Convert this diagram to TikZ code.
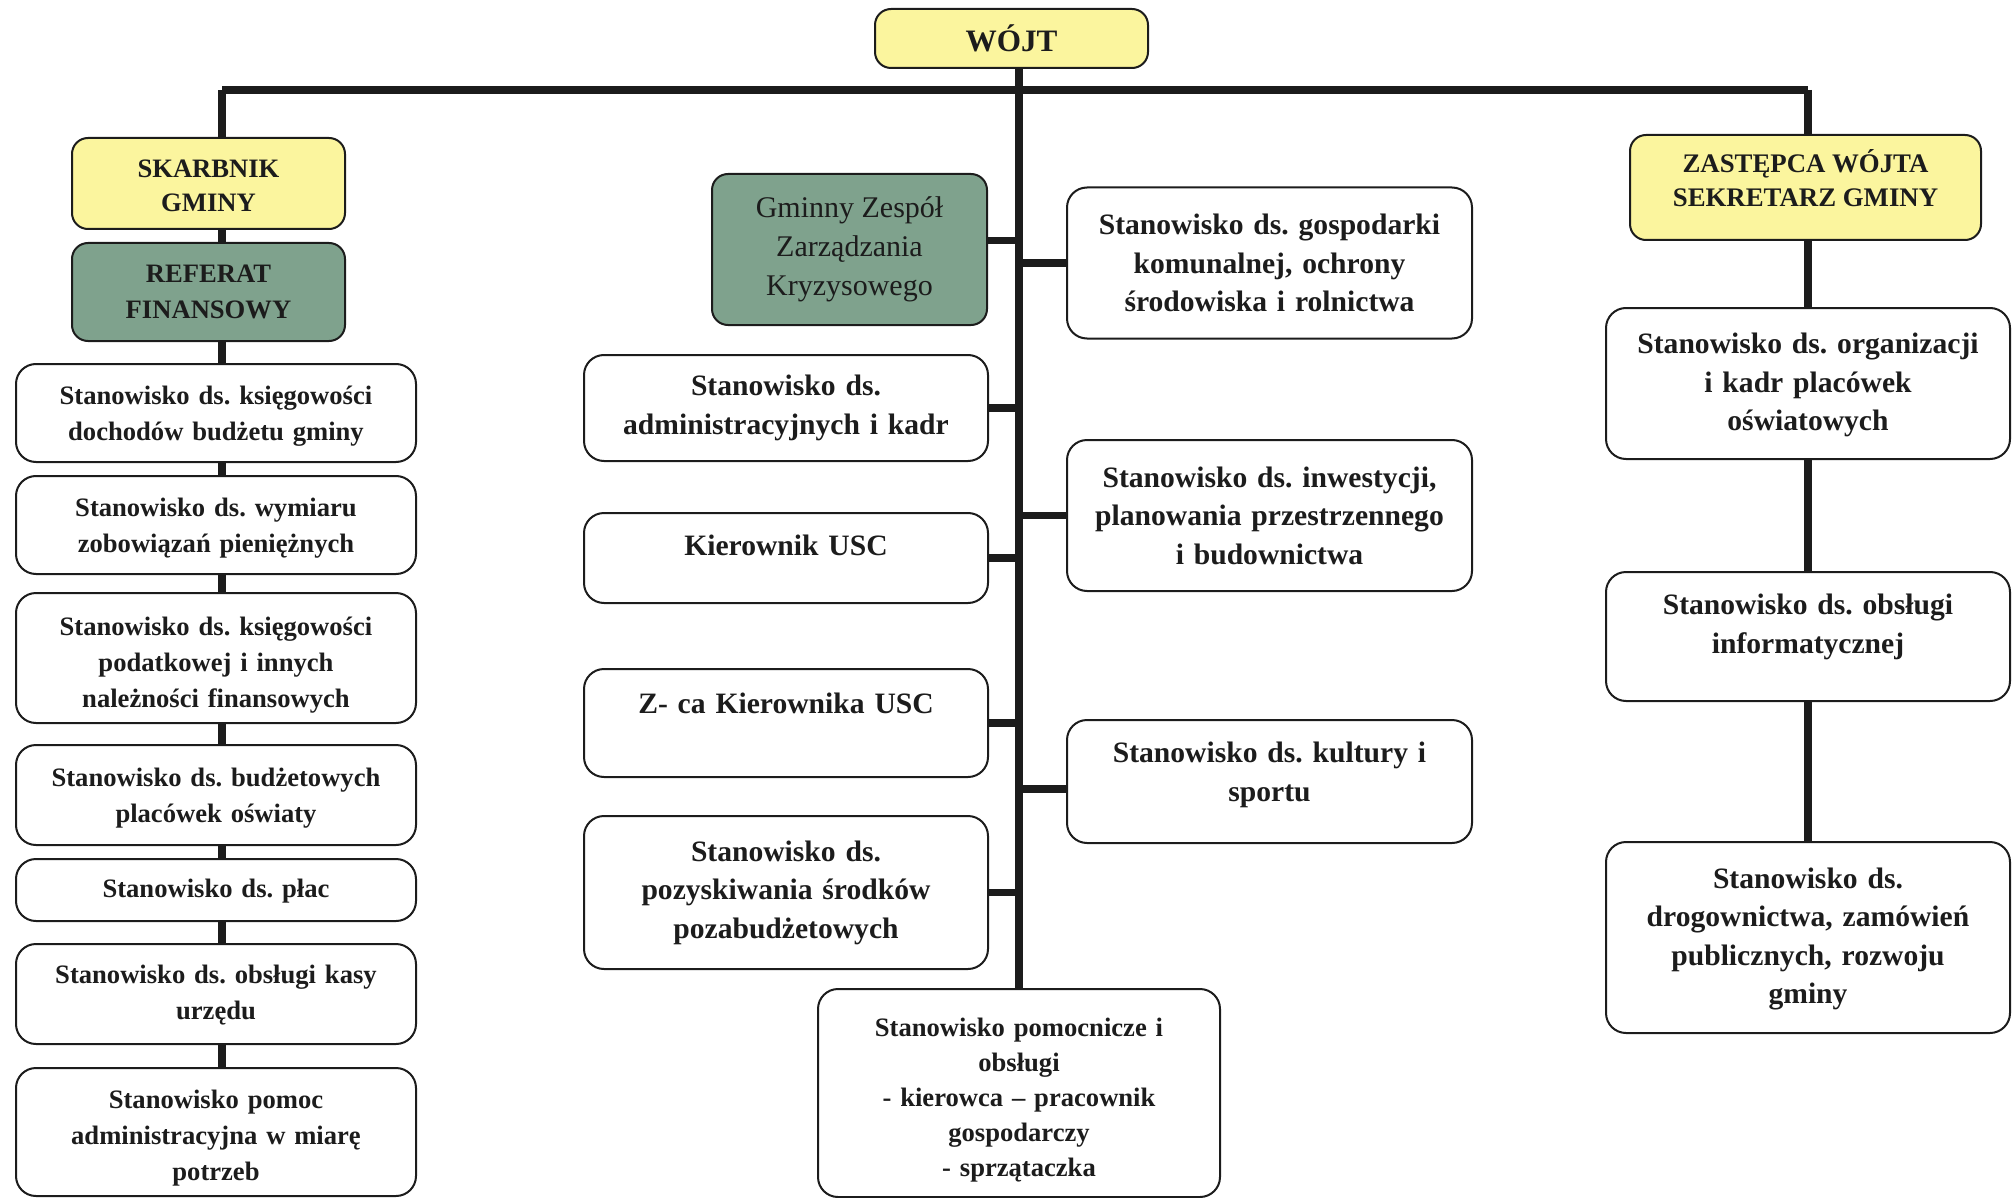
\documentclass[tikz,border=0pt]{standalone}
\usepackage{fontspec}
\setmainfont{Liberation Serif}
\frenchspacing
\usetikzlibrary{positioning}

\definecolor{bossyellow}{HTML}{FBF59E}
\definecolor{unitgreen}{HTML}{7FA28D}
\definecolor{inkline}{HTML}{1C1C1C}

\tikzset{
  box/.style={draw=inkline, line width=1pt, rounded corners=10pt, fill=white,
    align=center, inner sep=2pt, text=inkline},
  leftbox/.style={box, minimum width=200pt, text width=192pt, text height=12pt,
    font=\bfseries\fontsize{13.3pt}{18pt}\selectfont},
  midbox/.style={box, minimum width=202pt, text width=194pt,
    font=\bfseries\fontsize{14.8pt}{19.25pt}\selectfont},
  yellowbox/.style={box, fill=bossyellow, rounded corners=8pt},
  greenbox/.style={box, fill=unitgreen, rounded corners=8pt},
  link/.style={draw=inkline, line width=3.6pt},
}

\begin{document}
\begin{tikzpicture}[x=0.5pt,y=-0.5pt]
\useasboundingbox (0,0) rectangle (2012,1198);

% kierownictwo
\node[yellowbox, minimum width=136.5pt, minimum height=29.5pt,
  font=\bfseries\fontsize{15.6pt}{19pt}\selectfont] (wojt) at (1011.5,38.5) {WÓJT};
\node[yellowbox, minimum width=136.5pt, minimum height=45.5pt, text height=28.5pt,
  font=\bfseries\fontsize{13.3pt}{17.3pt}\selectfont] (skarbnik) at (208.5,183.5) {SKARBNIK\\GMINY};
\node[greenbox, minimum width=136.5pt, minimum height=49pt,
  font=\bfseries\fontsize{13.3pt}{18pt}\selectfont] (referat) at (208.5,292) {REFERAT\\FINANSOWY};
\node[yellowbox, minimum width=175.5pt, minimum height=52.5pt, text depth=9.5pt,
  font=\bfseries\fontsize{13.4pt}{17.3pt}\selectfont] (zastepca) at (1805.5,187.5) {ZASTĘPCA WÓJTA\\SEKRETARZ GMINY};
\node[greenbox, minimum width=137.5pt, minimum height=75.5pt,
  font=\fontsize{15pt}{19.5pt}\selectfont] (zespol) at (849.5,249.5) {Gminny Zespół\\Zarządzania\\Kryzysowego};

% referat finansowy
\node[leftbox, minimum height=49pt] (ksieg) at (216,413) {Stanowisko ds. księgowości\\dochodów budżetu gminy};
\node[leftbox, minimum height=49pt] (wymiar) at (216,525) {Stanowisko ds. wymiaru\\zobowiązań pieniężnych};
\node[leftbox, minimum height=65pt, text height=16pt] (podatki) at (216,658) {Stanowisko ds. księgowości\\podatkowej i innych\\należności finansowych};
\node[leftbox, minimum height=50pt] (budzet) at (216,795) {Stanowisko ds. budżetowych\\placówek oświaty};
\node[leftbox, minimum height=31pt, text height=10pt] (place) at (216,890) {Stanowisko ds. płac};
\node[leftbox, minimum height=50pt, text height=10pt] (kasa) at (216,994) {Stanowisko ds. obsługi kasy\\urzędu};
\node[leftbox, minimum height=64pt, text height=15pt] (pomoc) at (216,1132) {Stanowisko pomoc\\administracyjna w miarę\\potrzeb};

% stanowiska przy wojcie
\node[midbox, minimum height=53pt] (admin) at (786,408) {Stanowisko ds.\\administracyjnych i kadr};
\node[midbox, minimum height=45pt, text depth=13pt] (usc) at (786,558) {Kierownik USC};
\node[midbox, minimum height=54pt, text depth=20pt] (zcausc) at (786,723) {Z- ca Kierownika USC};
\node[midbox, minimum height=76.5pt] (srodki) at (786,892.5) {Stanowisko ds.\\pozyskiwania środków\\pozabudżetowych};
\node[midbox, minimum width=202.5pt, minimum height=75.5pt] (gospodarka) at (1269.5,263) {Stanowisko ds. gospodarki\\komunalnej, ochrony\\środowiska i rolnictwa};
\node[midbox, minimum width=202.5pt, minimum height=75.5pt] (inwestycje) at (1269.5,515.5) {Stanowisko ds. inwestycji,\\planowania przestrzennego\\i budownictwa};
\node[midbox, minimum width=202.5pt, minimum height=61.5pt, text depth=29pt] (kultura) at (1269.5,781.5) {Stanowisko ds. kultury i\\sportu};
\node[leftbox, minimum width=201pt, minimum height=104pt, text height=16pt,
  font=\bfseries\fontsize{13.3pt}{17.5pt}\selectfont] (obsluga) at (1019,1093) {Stanowisko pomocnicze i\\obsługi\\- kierowca – pracownik\\gospodarczy\\- sprzątaczka};

% sekretarz
\node[midbox, minimum height=75.5pt, text height=12pt] (kadry) at (1808,383.5) {Stanowisko ds. organizacji\\i kadr placówek\\oświatowych};
\node[midbox, minimum height=64.5pt, text depth=32pt] (informatyka) at (1808,636.5) {Stanowisko ds. obsługi\\informatycznej};
\node[midbox, minimum height=95.5pt, text height=12pt] (drogi) at (1808,937.5) {Stanowisko ds.\\drogownictwa, zamówień\\publicznych, rozwoju\\gminy};

% linie
\coordinate (busL) at (222,90);
\coordinate (busR) at (1808,90);
\coordinate (trunk) at (1019,90);

\draw[link] (busL) -- (busR);
\draw[link] (wojt.south -| trunk) -- (trunk |- obsluga.north);
\draw[link] (busL) -- (busL |- skarbnik.north);
\draw[link] (busR) -- (busR |- zastepca.north);

\foreach \a/\b in {skarbnik/referat, referat/ksieg, ksieg/wymiar, wymiar/podatki,
    podatki/budzet, budzet/place, place/kasa, kasa/pomoc}
  \draw[link] (busL |- \a.south) -- (busL |- \b.north);
\foreach \a/\b in {zastepca/kadry, kadry/informatyka, informatyka/drogi}
  \draw[link] (busR |- \a.south) -- (busR |- \b.north);

\foreach \n in {admin, usc, zcausc, srodki}
  \draw[link] (\n.east) -- (\n.east -| trunk);
\foreach \n in {gospodarka, inwestycje}
  \draw[link] (\n.west) -- (\n.west -| trunk);
\draw[link] ([yshift=4.5pt]zespol.east) -- ([yshift=4.5pt]zespol.east -| trunk);
\draw[link] ([yshift=-3.75pt]kultura.west) -- ([yshift=-3.75pt]kultura.west -| trunk);
\end{tikzpicture}
\end{document}
